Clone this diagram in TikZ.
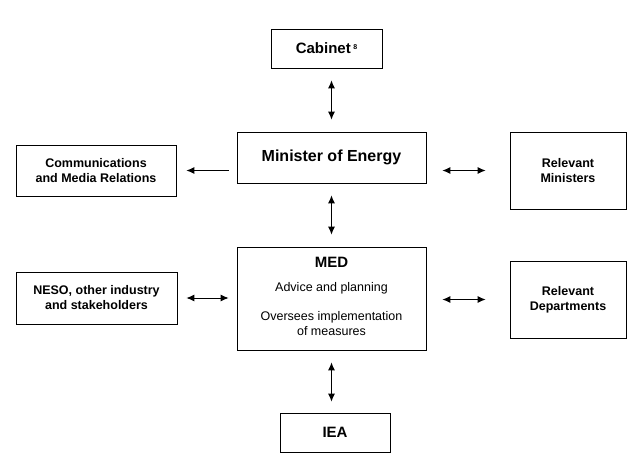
\documentclass[tikz,border=0pt]{standalone}
\usepackage{fontspec}
\setmainfont{Liberation Sans}
\usetikzlibrary{arrows.meta}
\begin{document}
\begin{tikzpicture}[x=1pt,y=-1pt,
box/.style={draw,line width=0.8pt,align=center,inner sep=0pt},
arr/.style={line width=0.9pt,-{Latex[length=8pt,width=7pt]}},
darr/.style={line width=0.9pt,{Latex[length=8pt,width=7pt]}-{Latex[length=8pt,width=7pt]}}]
\useasboundingbox (0,0) rectangle (643,472);
\node[box,minimum width=111,minimum height=39,font=\fontsize{15}{17}\selectfont\bfseries] (cab) at (326.5,48.5) {Cabinet\,\raisebox{0.6ex}{\fontsize{7}{8}\selectfont 8}};
\node[box,minimum width=189,minimum height=51,font=\fontsize{16}{19}\selectfont\bfseries] (min) at (331.5,157.5) {Minister of Energy};
\node[box,minimum width=160,minimum height=51,font=\fontsize{12.5}{15}\selectfont\bfseries] (com) at (96,170.5) {Communications\\and Media Relations};
\node[box,minimum width=116,minimum height=77,font=\fontsize{12.5}{15}\selectfont\bfseries] (rmin) at (568,170.5) {Relevant\\Ministers};
\node[box,minimum width=189,minimum height=103] (med) at (331.5,298.5) {};
\node[font=\fontsize{15}{17}\selectfont\bfseries] at (331.5,262) {MED};
\node[font=\fontsize{12.5}{14}\selectfont] at (331.5,288) {Advice and planning};
\node[font=\fontsize{12.5}{15}\selectfont,align=center] at (331.5,324) {Oversees implementation\\of measures};
\node[box,minimum width=161,minimum height=52,font=\fontsize{12.5}{15}\selectfont\bfseries] (neso) at (96.5,298) {NESO, other industry\\and stakeholders};
\node[box,minimum width=116,minimum height=77,font=\fontsize{12.5}{15}\selectfont\bfseries] (rdep) at (568,299.5) {Relevant\\Departments};
\node[box,minimum width=110,minimum height=39,font=\fontsize{15}{17}\selectfont\bfseries] (iea) at (335,432.5) {IEA};
\draw[darr] ([yshift=-12]cab.south -| min.north) -- ([yshift=12]min.north);
\draw[darr] ([yshift=-12]min.south) -- ([yshift=12]med.north);
\draw[darr] ([yshift=-12]med.south) -- ([yshift=11]med.south |- iea.north);
\draw[arr] ([xshift=-8]min.west |- com.east) -- ([xshift=10]com.east);
\draw[darr] ([xshift=16]min.east |- rmin.west) -- ([xshift=-24]rmin.west);
\draw[darr] ([xshift=9]neso.east) -- ([xshift=-8]med.west |- neso.east);
\draw[darr] ([xshift=16]med.east |- rdep.west) -- ([xshift=-24]rdep.west);
\end{tikzpicture}
\end{document}
